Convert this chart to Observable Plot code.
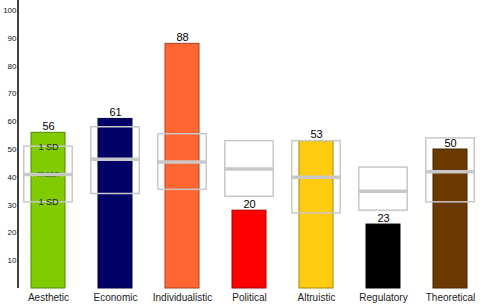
<!DOCTYPE html>
<html><head><meta charset="utf-8">
<script src="https://cdn.jsdelivr.net/npm/d3@7"></script>
<script src="https://cdn.jsdelivr.net/npm/@observablehq/plot@0.6"></script>
<style>
html,body{margin:0;padding:0;background:#fff;}
#chart svg{font-family:Arial,"Liberation Sans",sans-serif;display:block;}
</style></head>
<body><div id="chart"></div>
<script>
const categories = ["Aesthetic","Economic","Individualistic","Political","Altruistic","Regulatory","Theoretical"];
const scores = [56, 61, 88, 28, 53, 23, 50];
const scoreLabels = ["56","61","88","20","53","23","50"];
const means = [41, 46.5, 45.5, 43, 40, 35, 42];
const sdLow = [31, 34, 35.5, 33, 27, 28, 31];
const sdHigh = [51, 58, 55.5, 53, 53, 43.5, 54];
const colors = ["#80cc00","#000066","#ff6633","#ff0000","#ffcc11","#000000","#6b3a00"];
const yTicks = [10,20,30,40,50,60,70,80,90,100];

const data = categories.map((c,i)=>({cat:c, score:scores[i], label:scoreLabels[i], mean:means[i], lo:sdLow[i], hi:sdHigh[i], color:colors[i]}));
const first = data.slice(0,1);

const chart = Plot.plot({
  width: 500, height: 307,
  marginTop: 10, marginBottom: 19, marginLeft: 18, marginRight: 0,
  x: {domain: categories, range: [30, 466.7], paddingInner: 0.5, paddingOuter: 0, label: null},
  y: {domain: [0,100], label: null},
  marks: [
    Plot.barY(data, {x:"cat", y:"score", fill: d=>d.color, stroke: d=>d3.color(d.color).darker(1.2).formatHex(), strokeWidth:1}),
    Plot.barY(data, {x:"cat", y1:"lo", y2:"hi", fill:"none", stroke:"#c8c8c8", strokeWidth:1.5, insetLeft:-7.2, insetRight:-7.2}),
    Plot.text(first, {x:"cat", y:"mean", text:()=>"mean", fontSize:9, fill:"#222"}),
    Plot.tickY(data, {x:"cat", y:"mean", stroke:"#c8c8c8", strokeWidth:3.5, insetLeft:-7.2, insetRight:-7.2}),
    Plot.text(first, {x:"cat", y:"hi", text:()=>"1 SD", fontSize:9, fill:"#222"}),
    Plot.text(first, {x:"cat", y:"lo", text:()=>"1 SD", fontSize:9, fill:"#222"}),
    Plot.text(data, {x:"cat", y:"score", text:"label", dy:-3, lineAnchor:"bottom", fontSize:11, fill:"#000"}),
    Plot.axisY({ticks: yTicks, tickSize:0, tickPadding:2, fontSize:8, fill:"#111", label:null}),
    Plot.axisX({tickSize:0, tickPadding:5, fontSize:10, fill:"#222", label:null}),
    Plot.ruleY([0], {x1: 18, x2: 500, stroke:"#888", strokeWidth:2, x: null}),
  ]
});
document.getElementById("chart").appendChild(chart);
// left axis line
const svg = d3.select(chart);
svg.append("line").attr("x1",18).attr("x2",18).attr("y1",0).attr("y2",288).attr("stroke","#000").attr("stroke-width",1.5);
</script></body></html>
